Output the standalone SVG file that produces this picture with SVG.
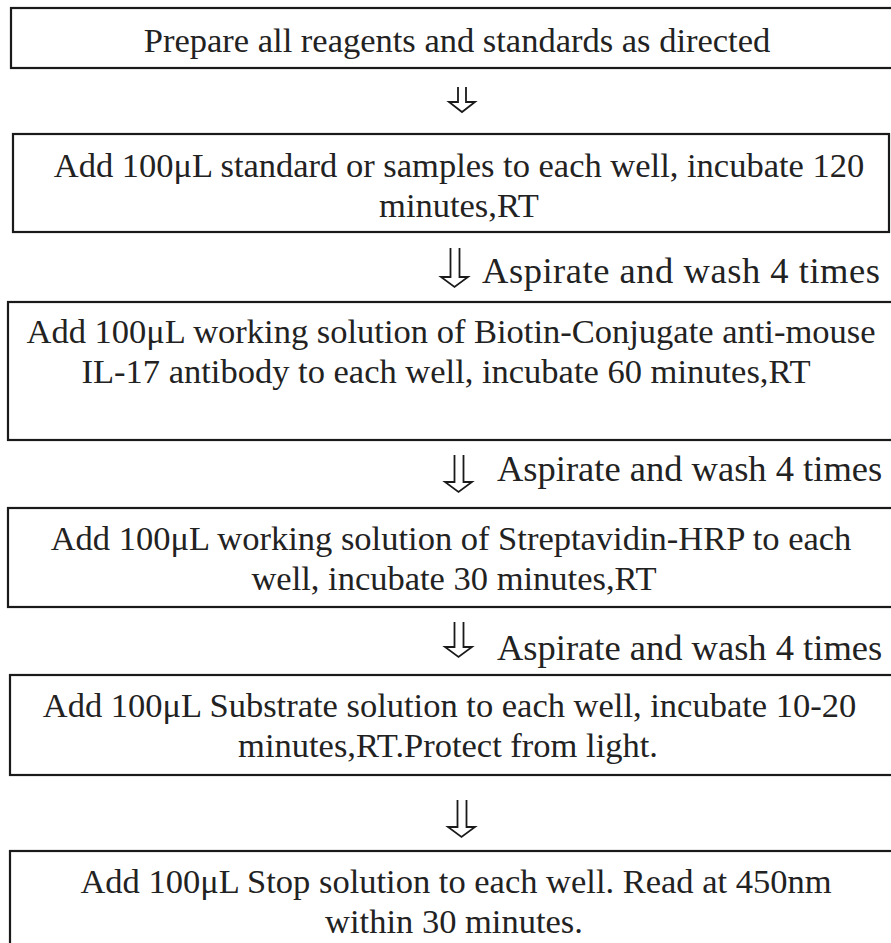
<svg xmlns="http://www.w3.org/2000/svg" width="891" height="943" viewBox="0 0 891 943">
<style>
.box{fill:#fff;stroke:#1a1a1a;stroke-width:2.2}
.t{font-family:"Liberation Serif","Times New Roman",serif;font-size:34.5px;fill:#222;text-anchor:middle}
.l{font-family:"Liberation Serif","Times New Roman",serif;font-size:36.5px;fill:#222}
.arr{fill:#fff;stroke:#1a1a1a;stroke-width:1.8;stroke-linejoin:miter}
</style>
<rect width="891" height="943" fill="#fff"/>
<g id="connectors">
<path class="arr" d="M458 87 V102 H449 L462 112 L475 102 H466 V87"/>
<path class="arr" d="M450.5 248 V277 H441 L454.5 287 L468 277 H459.5 V248"/>
<path class="arr" d="M454.5 455 V482 H445 L458.5 492 L472 482 H463.5 V455"/>
<path class="arr" d="M454.5 622 V647 H445 L458.5 657 L472 647 H463.5 V622"/>
<path class="arr" d="M457.5 800 V827 H448 L461.5 837 L475 827 H466.5 V800"/>
<text class="l" x="482" y="283" textLength="398" lengthAdjust="spacing">Aspirate and wash 4 times</text>
<text class="l" x="497" y="481">Aspirate and wash 4 times</text>
<text class="l" x="497" y="660">Aspirate and wash 4 times</text>
</g>
<g id="step1">
<rect class="box" x="11" y="8" width="900" height="60"/>
<text class="t" x="457" y="52">Prepare all reagents and standards as directed</text>
</g>
<g id="step2">
<rect class="box" x="13" y="134" width="876" height="98"/>
<text class="t" x="459" y="177">Add 100μL standard or samples to each well, incubate 120</text>
<text class="t" x="459" y="217">minutes,RT</text>
</g>
<g id="step3">
<rect class="box" x="8" y="302" width="900" height="138"/>
<text class="t" x="451" y="343">Add 100μL working solution of Biotin-Conjugate anti-mouse</text>
<text class="t" x="446" y="383">IL-17 antibody to each well, incubate 60 minutes,RT</text>
</g>
<g id="step4">
<rect class="box" x="8" y="508" width="900" height="99"/>
<text class="t" x="451" y="550">Add 100μL working solution of Streptavidin-HRP to each</text>
<text class="t" x="454" y="590">well, incubate 30 minutes,RT</text>
</g>
<g id="step5">
<rect class="box" x="10" y="675" width="900" height="100"/>
<text class="t" x="449.5" y="717">Add 100μL Substrate solution to each well, incubate 10-20</text>
<text class="t" x="448" y="757">minutes,RT.Protect from light.</text>
</g>
<g id="step6">
<rect class="box" x="10" y="851" width="900" height="120"/>
<text class="t" x="456" y="893">Add 100μL Stop solution to each well. Read at 450nm</text>
<text class="t" x="454" y="933">within 30 minutes.</text>
</g>
</svg>
